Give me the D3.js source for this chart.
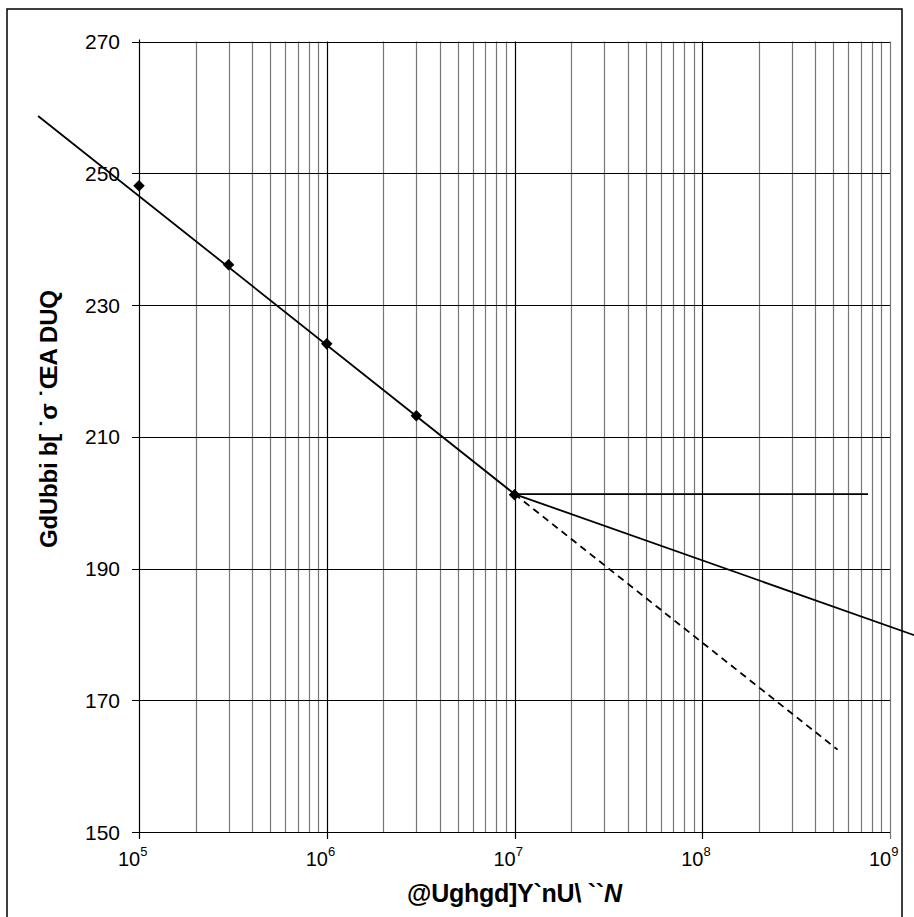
<!DOCTYPE html>
<html>
<head>
<meta charset="utf-8">
<script src="https://cdnjs.cloudflare.com/ajax/libs/d3/7.8.5/d3.min.js"></script>
<style>
  body { margin: 0; background: #fff; }
  svg { display: block; font-family: "Liberation Sans", Arial, sans-serif; }
</style>
</head>
<body>
<svg id="chart"></svg>
<script>
// test points
var testN = [1e5, 3e5, 1e6, 3e6, 1e7];
var testS = [248.1, 236.1, 224.1, 213.2, 201.2];
// fitted line through the tests (drawn past the axis on the left)
var fitN = [2.9e4, 1e7];
var fitS = [258.7, 201.3];
// horizontal limit
var flatN = [1e7, 7.64e8];
var flatS = [201.3, 201.3];
// shallower slope after the knee
var kneeN = [1e7, 1.4e9];
var kneeS = [201.3, 179.7];
// dashed extension of the fit
var dashN = [1e7, 5.26e8];
var dashS = [201.3, 162.5];

var yTicks = [150, 170, 190, 210, 230, 250, 270];
var xDecades = [5, 6, 7, 8, 9];
var xTitle = "@Ughgd]Y`nU\\ ``";
var xTitleItalic = "N";
var yTitle = "GdUbbi b[ \u02D9\u03C3 \u02D9\u0152A DUQ";

var W = 914, H = 917;
var svg = d3.select('#chart')
            .attr('width', W)
            .attr('height', H);

var x = d3.scaleLog().domain([1e5, 1e9]).range([139, 890]);
var y = d3.scaleLinear().domain([150, 270]).range([832, 41.5]);

// outer frame
svg.append('rect')
   .attr('x', 7).attr('y', 9)
   .attr('width', 895).attr('height', 920)
   .attr('fill', 'none')
   .attr('stroke', 'black')
   .attr('stroke-width', 1.5);

// vertical grid, 2..9 in every decade plus the decades
var minor = [];
for (var e = 5; e < 9; e++) {
  for (var m = 2; m <= 9; m++) minor.push(m * Math.pow(10, e));
}
svg.append('g').selectAll('line')
   .data(minor)
   .enter().append('line')
   .attr('x1', d => Math.round(x(d)) + 0.5)
   .attr('x2', d => Math.round(x(d)) + 0.5)
   .attr('y1', y(270)).attr('y2', y(150))
   .attr('stroke', '#777')
   .attr('stroke-width', 1.2);

svg.append('g').selectAll('line')
   .data(xDecades.slice(1))
   .enter().append('line')
   .attr('x1', d => Math.round(x(Math.pow(10, d))) + 0.5)
   .attr('x2', d => Math.round(x(Math.pow(10, d))) + 0.5)
   .attr('y1', y(270)).attr('y2', y(150) + 7)
   .attr('stroke', d => d == 9 ? '#777' : 'black')
   .attr('stroke-width', 1.2);

// horizontal grid
svg.append('g').selectAll('line')
   .data(yTicks)
   .enter().append('line')
   .attr('x1', x(1e5) - 7).attr('x2', x(1e9))
   .attr('y1', d => Math.round(y(d)) + 0.5)
   .attr('y2', d => Math.round(y(d)) + 0.5)
   .attr('stroke', 'black')
   .attr('stroke-width', 1);

// left axis line
svg.append('line')
   .attr('x1', Math.round(x(1e5)) + 0.5).attr('x2', Math.round(x(1e5)) + 0.5)
   .attr('y1', y(270) - 2).attr('y2', y(150) + 7)
   .attr('stroke', 'black')
   .attr('stroke-width', 1.2);

// y tick labels
svg.append('g').selectAll('text')
   .data(yTicks)
   .enter().append('text')
   .attr('x', 120)
   .attr('y', d => y(d) + 7.5)
   .attr('text-anchor', 'end')
   .attr('font-size', '21px')
   .attr('fill', 'black')
   .text(d => d);

// x tick labels 10^n
var xl = svg.append('g').selectAll('text')
   .data(xDecades)
   .enter().append('text')
   .attr('x', d => x(Math.pow(10, d)) - 21)
   .attr('y', 866)
   .attr('font-size', '20px')
   .attr('fill', 'black');
xl.append('tspan').text('10');
xl.append('tspan')
  .attr('dy', -10)
  .attr('font-size', '13px')
  .text(d => d);

// lines
var line = d3.line()
             .x(d => x(d[0]))
             .y(d => y(d[1]));

function draw(ns, ss, dash) {
  svg.append('path')
     .datum(d3.zip(ns, ss))
     .attr('d', line)
     .attr('fill', 'none')
     .attr('stroke', 'black')
     .attr('stroke-width', 1.8)
     .attr('stroke-dasharray', dash || null);
}
draw(fitN, fitS);
draw(flatN, flatS);
draw(kneeN, kneeS);
draw(dashN, dashS, '7,5');

// diamonds
svg.append('g').selectAll('path')
   .data(d3.zip(testN, testS))
   .enter().append('path')
   .attr('transform', d => 'translate(' + x(d[0]) + ',' + y(d[1]) + ')')
   .attr('d', d3.symbol(d3.symbolDiamond2, 85))
   .attr('fill', 'black');

// axis titles
var xt = svg.append('text')
   .attr('x', 407)
   .attr('y', 902)
   .attr('font-size', '25px')
   .attr('font-weight', 'bold')
   .attr('fill', 'black')
   .attr('textLength', 215)
   .attr('lengthAdjust', 'spacing');
xt.append('tspan').text(xTitle);
xt.append('tspan').attr('font-style', 'italic').text(xTitleItalic);

svg.append('text')
   .attr('transform', 'translate(57,548) rotate(-90)')
   .attr('font-size', '24px')
   .attr('font-weight', 'bold')
   .attr('fill', 'black')
   .attr('textLength', 258)
   .attr('lengthAdjust', 'spacing')
   .text(yTitle);
</script>
</body>
</html>
